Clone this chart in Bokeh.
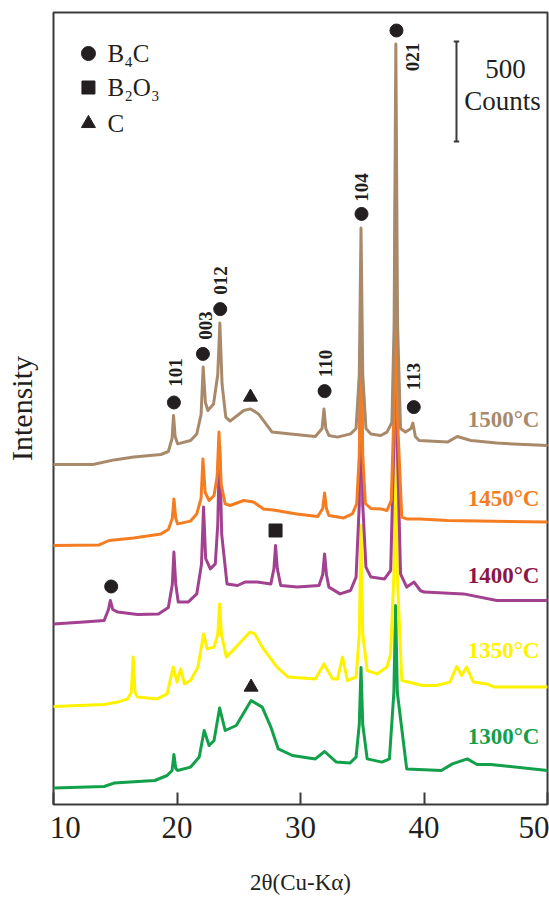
import math
from bokeh.plotting import figure
from bokeh.models import FixedTicker
from bokeh.core.properties import value
from bokeh.embed import file_html
from bokeh.resources import INLINE

FONT = "Liberation Serif"
INK = "#231f20"

# ---- data (2theta in degrees, stacked intensity in counts) ----
x_1500 = [10, 13.2, 14.9, 16.5, 18.7, 19.3, 19.6, 19.72, 19.85, 20.05, 21.1, 21.6, 21.95, 22.12, 22.3, 22.5,
          22.96, 23.3, 23.47, 23.65, 23.95, 24.3, 25.4, 25.95, 26.6, 27.7, 29.2, 31.2, 31.75, 31.9, 32.05,
          32.3, 33.0, 34.05, 34.5, 34.76, 34.9, 35.04, 35.3, 35.7, 36.5, 37.0, 37.4, 37.58, 37.72, 37.86,
          38.1, 38.5, 38.95, 39.1, 39.3, 39.6, 41.9, 42.7, 43.8, 45.9, 50]
y_1500 = [1700, 1700, 1723, 1737, 1750, 1765, 1830, 1945, 1840, 1803, 1820, 1853, 1950, 2187, 2010, 1970,
          2003, 2150, 2407, 2100, 1937, 1917, 1970, 1978, 1953, 1862, 1853, 1840, 1880, 1978, 1880,
          1845, 1837, 1853, 1880, 2150, 2882, 2150, 1880, 1853, 1845, 1862, 1910, 2400, 3803, 2400,
          1880, 1862, 1880, 1907, 1840, 1820, 1812, 1840, 1820, 1807, 1795]

x_1450 = [10, 13.7, 14.5, 16.5, 18.7, 19.3, 19.62, 19.75, 19.9, 20.05, 21.1, 21.6, 21.95, 22.1, 22.28, 22.6,
          23.0, 23.25, 23.4, 23.58, 23.9, 24.3, 25.4, 26.2, 27.0, 27.8, 29.7, 31.4, 31.8, 31.95, 32.1, 32.3,
          33.5, 34.2, 34.55, 34.76, 34.9, 35.04, 35.25, 35.7, 36.5, 37.0, 37.35, 37.56, 37.7, 37.84, 38.2,
          38.6, 39.7, 41.9, 50]
y_1450 = [1295, 1298, 1320, 1333, 1353, 1375, 1430, 1528, 1430, 1403, 1417, 1453, 1530, 1728, 1560, 1520,
          1545, 1640, 1862, 1600, 1503, 1495, 1520, 1512, 1478, 1473, 1453, 1440, 1480, 1557, 1480, 1445,
          1433, 1453, 1503, 1750, 2305, 1750, 1505, 1480, 1478, 1470, 1520, 1950, 2905, 1950, 1437,
          1428, 1428, 1420, 1412]

x_1400 = [10, 12.45, 14.1, 14.45, 14.6, 14.8, 15.2, 16.8, 18.5, 19.3, 19.62, 19.75, 19.9, 20.1, 20.9, 21.6,
          21.98, 22.15, 22.32, 22.7, 23.1, 23.3, 23.45, 23.62, 24.05, 24.9, 25.5, 26.5, 27.6, 27.85, 27.98,
          28.12, 28.4, 29.75, 31.5, 31.8, 31.95, 32.1, 32.3, 33.2, 34.05, 34.5, 34.76, 34.9, 35.04, 35.3,
          35.7, 36.8, 37.3, 37.56, 37.7, 37.84, 38.1, 38.6, 39.2, 39.7, 40.0, 43.2, 45.9, 50]
y_1400 = [903, 912, 920, 975, 1020, 975, 962, 950, 953, 985, 1100, 1262, 1100, 1012, 1012, 1053,
          1200, 1487, 1230, 1178, 1203, 1400, 1795, 1350, 1103, 1095, 1112, 1112, 1103, 1180, 1295,
          1180, 1095, 1087, 1095, 1150, 1253, 1150, 1087, 1053, 1070, 1137, 1500, 2595, 1500, 1187,
          1137, 1128, 1170, 1800, 3220, 1800, 1153, 1087, 1112, 1070, 1062, 1053, 1020, 1020]

x_1350 = [10, 14.1, 15.2, 16.0, 16.3, 16.45, 16.6, 16.8, 18.4, 19.2, 19.7, 20.0, 20.3, 20.6, 21.1, 21.7,
          22.15, 22.45, 23.0, 23.3, 23.45, 23.6, 24.0, 24.9, 25.9, 26.3, 26.9, 28.1, 29.0, 31.2, 31.9, 32.6,
          33.0, 33.4, 33.8, 34.5, 34.76, 34.9, 35.04, 35.4, 36.2, 37.0, 37.3, 37.56, 37.7, 37.84, 38.2,
          39.9, 41.0, 42.1, 42.65, 43.05, 43.45, 44.0, 45.1, 45.7, 50]
y_1350 = [490, 500, 512, 528, 560, 737, 560, 537, 528, 553, 687, 612, 678, 603, 620, 687,
          853, 778, 787, 850, 1003, 850, 737, 795, 862, 853, 787, 687, 637, 628, 703, 628,
          628, 737, 620, 637, 850, 1395, 850, 670, 653, 687, 753, 1150, 1920, 1150, 620,
          595, 595, 612, 690, 645, 687, 612, 603, 587, 587]

x_1300 = [10, 14.1, 14.9, 18.2, 19.2, 19.6, 19.75, 19.9, 20.05, 21.1, 21.8, 22.2, 22.6, 23.0, 23.45, 23.9,
          24.8, 26.0, 26.9, 27.6, 28.2, 29.35, 31.2, 31.95, 32.9, 34.0, 34.5, 34.76, 34.9, 35.04, 35.4,
          36.6, 37.2, 37.56, 37.7, 37.84, 38.6, 41.4, 42.3, 43.5, 44.3, 45.4, 50]
y_1300 = [83, 90, 107, 120, 145, 170, 250, 180, 170, 187, 237, 370, 295, 320, 483, 370,
          395, 520, 487, 387, 278, 245, 228, 265, 212, 207, 237, 400, 685, 400, 228,
          212, 228, 560, 995, 560, 178, 170, 203, 228, 200, 200, 170]

series_names = ["1300°C", "1350°C", "1400°C", "1450°C", "1500°C"]
series_x = [x_1300, x_1350, x_1400, x_1450, x_1500]
series_y = [y_1300, y_1350, y_1400, y_1450, y_1500]
line_colors = ["#12a04a", "#fff200", "#a2418f", "#f47d22", "#a88a6b"]
label_colors = ["#12a04a", "#fff200", "#8c1747", "#f47d22", "#a88a6b"]
label_y = [340, 770, 1145, 1530, 1925]

# phase markers
circ_x = [19.75, 22.1, 23.5, 31.95, 34.94, 37.77, 39.17, 14.67]
circ_y = [2010, 2253, 2477, 2067, 2953, 3870, 1987, 1090]
tri_x = [25.95, 26.0]
tri_y = [2037, 587]
sq_x = [27.98]
sq_y = [1370]

# reflection (hkl) labels
hkl = ["101", "003", "012", "110", "104", "021", "113"]
hkl_x = [19.88, 22.3, 23.52, 32.0, 34.94, 39.05, 39.17]
hkl_y = [2160, 2395, 2620, 2205, 3085, 3737, 2140]

# legend
leg_labels = ["B\u2084C", "B\u2082O\u2083", "C"]
leg_markers = ["circle", "square", "triangle"]
leg_sizes = [14, 13, 14]
leg_y = [3755, 3585, 3405]
leg_mx = 12.83
leg_tx = 14.37

# scale bar (500 counts)
bar_x = 42.63
bar_y0, bar_y1 = 3315, 3815

for xs, ys in zip(series_x, series_y):
    assert len(xs) == len(ys)

p = figure(width=549, height=899, x_range=(10, 50), y_range=(0, 3960),
           output_backend="svg", toolbar_location=None,
           min_border_left=53, min_border_right=2, min_border_top=12, min_border_bottom=95)
p.grid.visible = False
p.background_fill_color = "white"
p.border_fill_color = "white"
p.outline_line_color = "#3a3a3a"
p.outline_line_width = 2
p.outline_line_alpha = 1.0

xa = p.xaxis[0]
xa.ticker = FixedTicker(ticks=[10, 20, 30, 40, 50])
xa.major_label_overrides = {10: "\u00a0" * 3 + "10", 20: "20", 30: "30", 40: "40", 50: "50"}
xa.major_tick_in = 12
xa.major_tick_out = 0
xa.major_tick_line_color = "#3a3a3a"
xa.major_tick_line_width = 2
xa.minor_tick_line_color = None
xa.axis_line_color = None
xa.major_label_text_font = FONT
xa.major_label_text_font_size = "31px"
xa.major_label_text_color = INK
xa.major_label_standoff = 5
xa.axis_label = "2θ(Cu-Kα)"
xa.axis_label_text_font = FONT
xa.axis_label_text_font_size = "23px"
xa.axis_label_text_font_style = "normal"
xa.axis_label_text_color = INK
xa.axis_label_standoff = 22

ya = p.yaxis[0]
ya.ticker = FixedTicker(ticks=[])
ya.major_tick_line_color = None
ya.minor_tick_line_color = None
ya.axis_line_color = None
ya.axis_label = "Intensity"
ya.axis_label_text_font = FONT
ya.axis_label_text_font_size = "30px"
ya.axis_label_text_font_style = "normal"
ya.axis_label_text_color = INK
ya.axis_label_standoff = 16

for xs, ys, c in zip(series_x, series_y, line_colors):
    p.line(xs, ys, line_color=c, line_width=3, line_join="round", line_cap="round")

# temperature labels
p.text(x=[49.35] * 5, y=label_y, text=series_names, text_color=label_colors,
       text_font=value(FONT), text_font_size="23px", text_font_style="bold",
       text_align="right", text_baseline="middle")

# markers
p.scatter(circ_x, circ_y, marker="circle", size=13, color=INK)
p.scatter(tri_x, tri_y, marker="triangle", size=14, color=INK)
p.scatter(sq_x, sq_y, marker="square", size=13, color=INK)

# hkl labels (rotated)
p.text(x=hkl_x, y=hkl_y, text=hkl, angle=math.pi / 2, text_color=INK,
       text_font=value(FONT), text_font_size="19px", text_font_style="bold",
       text_align="center", text_baseline="middle")

# legend
for m, s, yy in zip(leg_markers, leg_sizes, leg_y):
    p.scatter([leg_mx], [yy], marker=m, size=s, color=INK)
p.text(x=[leg_tx] * 3, y=leg_y, text=leg_labels, text_color=INK,
       text_font=value(FONT), text_font_size="25px",
       text_align="left", text_baseline="middle")

# scale bar
p.segment(x0=[bar_x, bar_x - 0.22, bar_x - 0.22], y0=[bar_y0, bar_y0, bar_y1],
          x1=[bar_x, bar_x + 0.22, bar_x + 0.22], y1=[bar_y1, bar_y0, bar_y1],
          line_color="#3a3a3a", line_width=2)
p.text(x=[46.6, 46.36], y=[3680, 3520], text=["500", "Counts"], text_color=INK,
       text_font=value(FONT), text_font_size="27px",
       text_align="center", text_baseline="middle")

open("out.html", "w").write(file_html(p, INLINE))
